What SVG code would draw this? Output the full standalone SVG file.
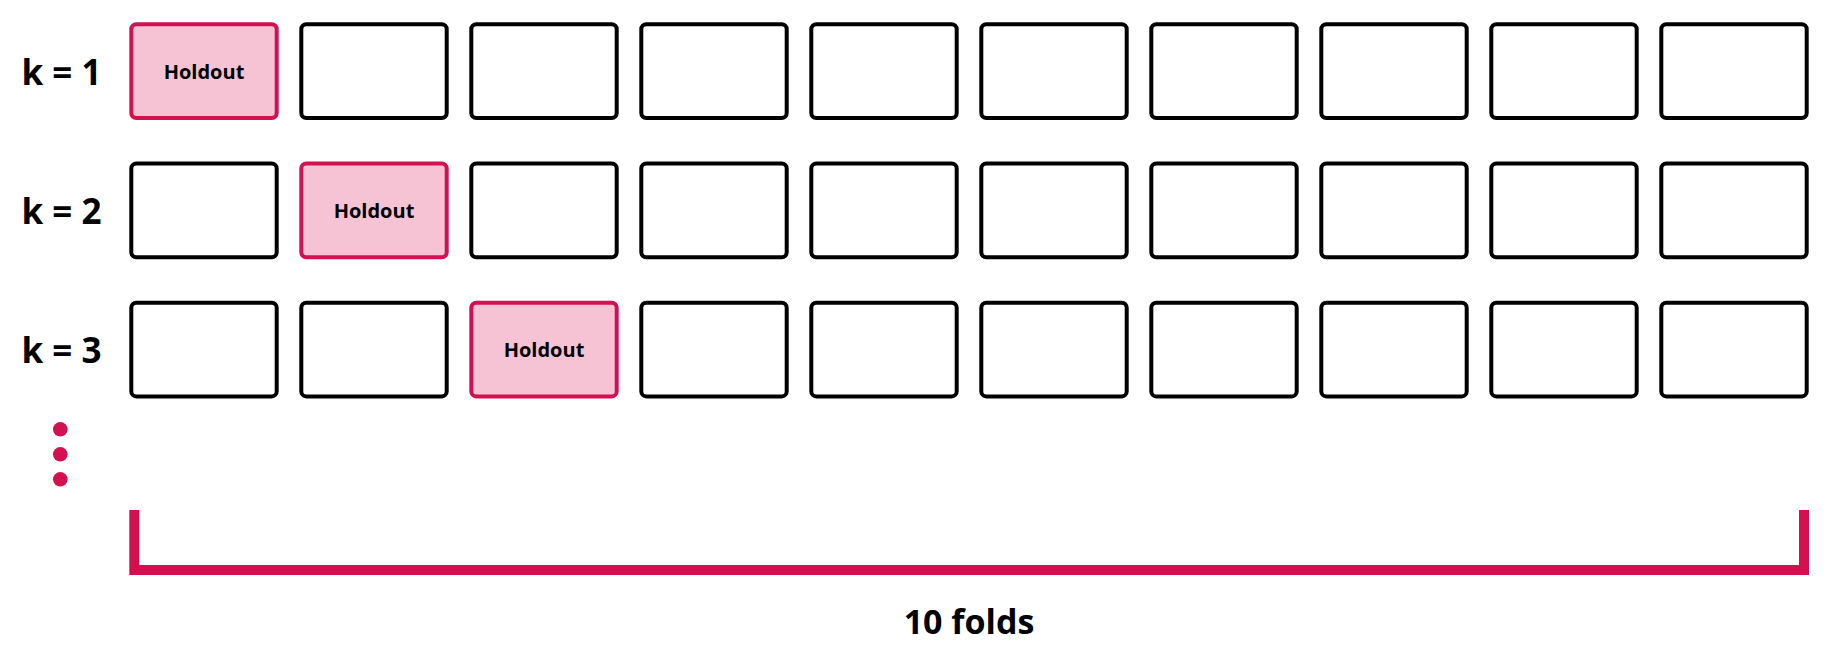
<svg xmlns="http://www.w3.org/2000/svg" width="1839" height="665" viewBox="0 0 1839 665">
<style>
.b{fill:#fff;stroke:#000;stroke-width:4}
.h{fill:#F5C3D3;stroke:#D41150;stroke-width:4}
.t{font-family:"Open Sans","Liberation Sans",sans-serif;font-weight:700;fill:#000}
.ht{font-size:20px;text-anchor:middle}
.kt{font-size:35px}
</style>
<rect width="1839" height="665" fill="#fff"/>
<g id="labels">
<text class="t kt" x="21.5" y="85">k = 1</text>
<text class="t kt" x="21.5" y="224.2">k = 2</text>
<text class="t kt" x="21.5" y="363.4">k = 3</text>
</g>
<g id="row1">
<rect class="h" x="131.3" y="24.3" width="145.4" height="93.7" rx="5"/>
<text class="t ht" x="204" y="79">Holdout</text>
<rect class="b" x="301.3" y="24.3" width="145.4" height="93.7" rx="5"/>
<rect class="b" x="471.3" y="24.3" width="145.4" height="93.7" rx="5"/>
<rect class="b" x="641.3" y="24.3" width="145.4" height="93.7" rx="5"/>
<rect class="b" x="811.3" y="24.3" width="145.4" height="93.7" rx="5"/>
<rect class="b" x="981.3" y="24.3" width="145.4" height="93.7" rx="5"/>
<rect class="b" x="1151.3" y="24.3" width="145.4" height="93.7" rx="5"/>
<rect class="b" x="1321.3" y="24.3" width="145.4" height="93.7" rx="5"/>
<rect class="b" x="1491.3" y="24.3" width="145.4" height="93.7" rx="5"/>
<rect class="b" x="1661.3" y="24.3" width="145.4" height="93.7" rx="5"/>
</g>
<g id="row2">
<rect class="b" x="131.3" y="163.5" width="145.4" height="93.7" rx="5"/>
<rect class="h" x="301.3" y="163.5" width="145.4" height="93.7" rx="5"/>
<text class="t ht" x="374" y="218.2">Holdout</text>
<rect class="b" x="471.3" y="163.5" width="145.4" height="93.7" rx="5"/>
<rect class="b" x="641.3" y="163.5" width="145.4" height="93.7" rx="5"/>
<rect class="b" x="811.3" y="163.5" width="145.4" height="93.7" rx="5"/>
<rect class="b" x="981.3" y="163.5" width="145.4" height="93.7" rx="5"/>
<rect class="b" x="1151.3" y="163.5" width="145.4" height="93.7" rx="5"/>
<rect class="b" x="1321.3" y="163.5" width="145.4" height="93.7" rx="5"/>
<rect class="b" x="1491.3" y="163.5" width="145.4" height="93.7" rx="5"/>
<rect class="b" x="1661.3" y="163.5" width="145.4" height="93.7" rx="5"/>
</g>
<g id="row3">
<rect class="b" x="131.3" y="302.7" width="145.4" height="93.7" rx="5"/>
<rect class="b" x="301.3" y="302.7" width="145.4" height="93.7" rx="5"/>
<rect class="h" x="471.3" y="302.7" width="145.4" height="93.7" rx="5"/>
<text class="t ht" x="544" y="357.4">Holdout</text>
<rect class="b" x="641.3" y="302.7" width="145.4" height="93.7" rx="5"/>
<rect class="b" x="811.3" y="302.7" width="145.4" height="93.7" rx="5"/>
<rect class="b" x="981.3" y="302.7" width="145.4" height="93.7" rx="5"/>
<rect class="b" x="1151.3" y="302.7" width="145.4" height="93.7" rx="5"/>
<rect class="b" x="1321.3" y="302.7" width="145.4" height="93.7" rx="5"/>
<rect class="b" x="1491.3" y="302.7" width="145.4" height="93.7" rx="5"/>
<rect class="b" x="1661.3" y="302.7" width="145.4" height="93.7" rx="5"/>
</g>
<g id="dots" fill="#D41150">
<circle cx="60.3" cy="429.3" r="7.3"/>
<circle cx="60.3" cy="454.3" r="7.3"/>
<circle cx="60.3" cy="479.3" r="7.3"/>
</g>
<g id="connectors">
<path d="M134.3,510 V570 H1804 V510" fill="none" stroke="#D41150" stroke-width="10" stroke-linejoin="miter"/>
</g>
<g id="caption">
<text class="t" x="969" y="634" font-size="34" text-anchor="middle">10 folds</text>
</g>
</svg>
